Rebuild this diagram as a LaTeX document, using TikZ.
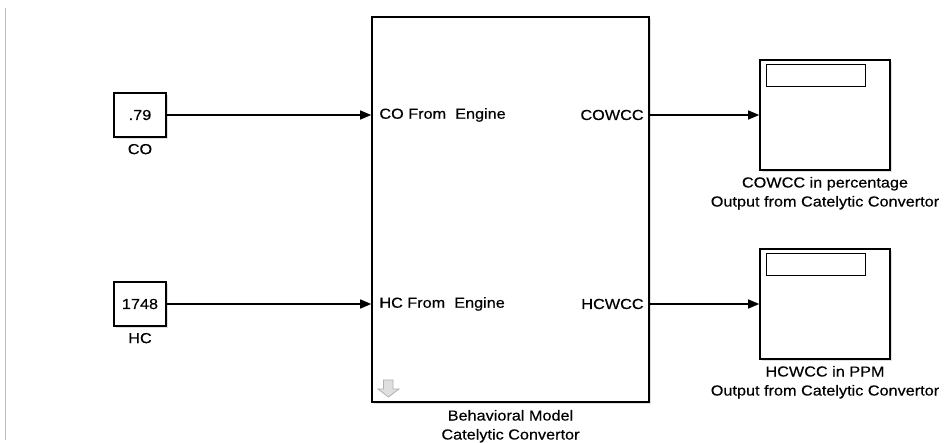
\documentclass[tikz,border=0pt]{standalone}
\usepackage{fontspec}
\setmainfont{Liberation Sans}[FakeStretch=1.12,FakeBold=0.4]
\usetikzlibrary{positioning,arrows.meta,shadows}

\begin{document}
\begin{tikzpicture}[x=1pt,y=-1pt,
font=\fontsize{14.5}{19}\selectfont,
blk/.style={draw,rectangle,line width=1.6pt,fill=white,
    drop shadow={opacity=.25,shadow xshift=2pt,shadow yshift=-2pt}},
constblock/.style={blk,minimum width=52pt,minimum height=44pt,inner sep=0pt},
model/.style={blk,minimum width=277pt,minimum height=385pt},
display/.style={blk,minimum width=130pt,minimum height=110pt},
readout/.style={draw,rectangle,line width=1.2pt,minimum width=99pt,minimum height=22pt,inner sep=0pt},
portlabel/.style={inner sep=0pt},
caption/.style={inner sep=0pt,align=center},
signal/.style={line width=1.2pt,-{Triangle[length=11pt,width=9pt]}}]
\useasboundingbox (0,0) rectangle (946,443);
\draw[gray!50,line width=1pt] (5,8) -- (5,440);

% sources
\node (co) [constblock] at (140,115) {.79};
\node (colabel) [caption,below=6pt of co] {CO};
\node (hc) [constblock] at (140,304) {1748};
\node (hclabel) [caption,below=6pt of hc] {HC};

% catalytic converter subsystem
\node (model) [model] at (510.5,209.5) {};
\node (modellabel) [caption,below=7pt of model] {Behavioral Model\\Catelytic Convertor};
\node (coin) [portlabel,anchor=west] at ([xshift=8pt]model.west |- co) {CO From\ \ Engine};
\node (hcin) [portlabel,anchor=west] at ([xshift=8pt]model.west |- hc) {HC From\ \ Engine};
\node (coout) [portlabel,anchor=east] at ([xshift=-6pt]model.east |- co) {COWCC};
\node (hcout) [portlabel,anchor=east] at ([xshift=-6pt]model.east |- hc) {HCWCC};
\filldraw[draw=gray!60,fill=gray!25,line width=.8pt]
    (383.5,380) -- (393,380) -- (393,389) -- (399,389) -- (388.5,397)
    -- (378,389) -- (383.5,389) -- cycle;

% displays
\node (codisp) [display] at (825,115) {};
\node (coread) [readout,anchor=north west] at ([xshift=7pt,yshift=-5pt]codisp.north west) {};
\node (codisplabel) [caption,below=6pt of codisp] {COWCC in percentage\\Output from Catelytic Convertor};
\node (hcdisp) [display] at (825,304) {};
\node (hcread) [readout,anchor=north west] at ([xshift=7pt,yshift=-5pt]hcdisp.north west) {};
\node (hcdisplabel) [caption,below=6pt of hcdisp] {HCWCC in PPM\\Output from Catelytic Convertor};

% signals
\draw[signal] (co.east) -- (co -| model.west);
\draw[signal] (hc.east) -- (hc -| model.west);
\draw[signal] (model.east |- codisp) -- (codisp.west);
\draw[signal] (model.east |- hcdisp) -- (hcdisp.west);
\end{tikzpicture}
\end{document}
